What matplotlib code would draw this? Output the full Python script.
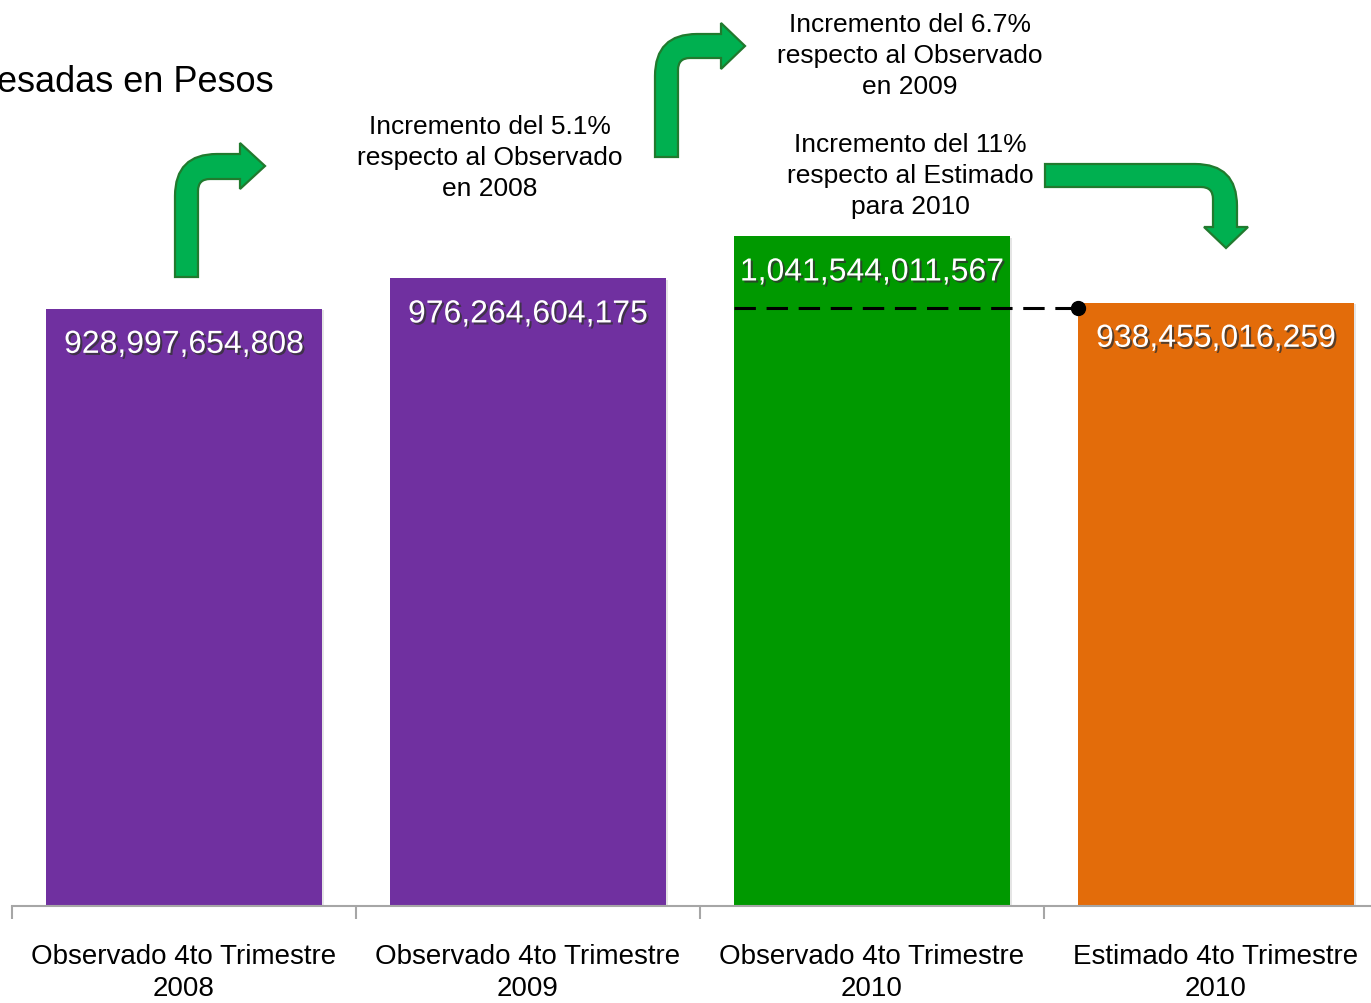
import matplotlib
matplotlib.use("Agg")
import matplotlib.pyplot as plt
import matplotlib.patheffects as pe
from matplotlib.path import Path
from matplotlib.patches import PathPatch

categories = ["Observado 4to Trimestre\n2008", "Observado 4to Trimestre\n2009",
              "Observado 4to Trimestre\n2010", "Estimado 4to Trimestre\n2010"]
values = [928997654808, 976264604175, 1041544011567, 938455016259]
value_labels = ["928,997,654,808", "976,264,604,175", "1,041,544,011,567", "938,455,016,259"]
bar_colors = ["#7030A0", "#7030A0", "#009900", "#E36C0A"]
ref_level = 930.5e9   # dashed reference line

notes = ["Incremento del 5.1%\nrespecto al Observado\nen 2008",
         "Incremento del 6.7%\nrespecto al Observado\nen 2009",
         "Incremento del 11%\nrespecto al Estimado\npara 2010"]

W, H = 1371, 1004
FONT = "Liberation Sans"

fig = plt.figure(figsize=(W / 100, H / 100), dpi=100)
# axes: left edge 12px, 344px per category, baseline at 907px
ax = fig.add_axes([12 / W, (H - 907) / H, 4 * 344 / W, 907 / H])
ax.set_xlim(-0.5, 3.5)
ax.set_ylim(0, 907 * 1.5557e9)

x = list(range(len(values)))
bars = ax.bar(x, values, width=0.8, color=bar_colors, zorder=2)
for b in bars:
    b.set_path_effects([pe.withSimplePatchShadow(offset=(2, -1), shadow_rgbFace="k", alpha=0.1)])

for xi, v, lab in zip(x, values, value_labels):
    ax.annotate(lab, (xi, v), xytext=(0, -36), textcoords="offset pixels",
                ha="center", va="center", color="white", fontsize=23,
                family=FONT, zorder=4,
                path_effects=[pe.withSimplePatchShadow(offset=(1.5, -1.5), shadow_rgbFace="#333333", alpha=0.8)])

# dashed line from green bar to estimated bar
ax.plot([1.6, 2.6], [ref_level, ref_level], color="black", lw=2.2, dashes=(7, 3.5), zorder=5)
ax.plot([2.6], [ref_level], "o", color="black", ms=10, zorder=6)

for s in ["top", "right", "left"]:
    ax.spines[s].set_visible(False)
ax.spines["bottom"].set_color("#A6A6A6")
ax.spines["bottom"].set_linewidth(1.5)
ax.set_yticks([])
ax.set_xticks(x)
ax.set_xticklabels(categories, family=FONT, fontsize=20, linespacing=1.3)
ax.tick_params(axis="x", which="major", length=0, pad=27)
ax.set_xticks([-0.5, 0.5, 1.5, 2.5], minor=True)
ax.tick_params(axis="x", which="minor", length=9, width=1.5, color="#A6A6A6", direction="out")

# notes
for (cx, cy), txt in zip([(490, 158), (910, 56), (910, 176)], notes):
    fig.text(cx / W, 1 - cy / H, txt, ha="center", va="center", fontsize=19,
             family=FONT, linespacing=1.35)
fig.text(274 / W, 1 - 82 / H, "esadas en Pesos", ha="right", va="center", fontsize=26,
         family=FONT)


def to_fig(pts):
    return [(px / W, 1 - py / H) for px, py in pts]


CODES = [Path.MOVETO, Path.LINETO, Path.CURVE3, Path.CURVE3, Path.LINETO, Path.LINETO,
         Path.LINETO, Path.LINETO, Path.LINETO, Path.LINETO, Path.CURVE3, Path.CURVE3,
         Path.LINETO, Path.CLOSEPOLY]


def up_right_arrow(x0, x1, yb, yt, yi, hb, ht, hbot, tip, R=42, r=12):
    pts = [(x0, yb), (x0, yt + R), (x0, yt), (x0 + R, yt), (hb, yt), (hb, ht), tip,
           (hb, hbot), (hb, yi), (x1 + r, yi), (x1, yi), (x1, yi + r), (x1, yb), (x0, yb)]
    return Path(to_fig(pts), CODES)


def right_down_arrow(xl, xo, xi, yt, yb, hy, hl, hr, tip, R=42, r=12):
    pts = [(xl, yt), (xo - R, yt), (xo, yt), (xo, yt + R), (xo, hy), (hr, hy), tip,
           (hl, hy), (xi, hy), (xi, yb + r), (xi, yb), (xi - r, yb), (xl, yb), (xl, yt)]
    return Path(to_fig(pts), CODES)


arrow_paths = [
    up_right_arrow(175, 198, 278, 155, 180, 240, 144, 190, (265, 167)),
    up_right_arrow(655, 678, 158, 35, 59, 721, 24, 70, (745, 47)),
    right_down_arrow(1045, 1237, 1213, 165, 188, 228, 1204, 1248, (1226, 249)),
]
for p in arrow_paths:
    fig.add_artist(PathPatch(p, transform=fig.transFigure, facecolor="#00B050",
                             edgecolor="#217A2E", lw=1.6, zorder=10))

fig.savefig("out.png", dpi=100)
